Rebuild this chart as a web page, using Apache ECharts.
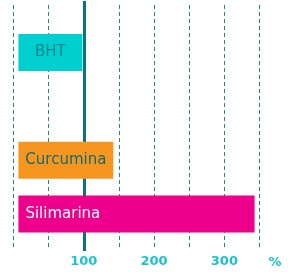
<!DOCTYPE html>
<html><head><meta charset="utf-8">
<script src="https://cdn.jsdelivr.net/npm/echarts@6/dist/echarts.min.js"></script>
<style>html,body{margin:0;padding:0;background:#fff}#c{width:300px;height:275px}</style>
</head><body><div id="c"></div>
<script>
var categories = ['BHT', 'Curcumina', 'Silimarina'];
var values = [98, 142, 343];
var barStart = 7;
var tickLabels = [100, 200, 300];
var referenceValue = 100;
var unitLabel = '%';
var barColors = ['#00CFCF', '#F7961E', '#EC008C'];
var labelColors = ['#138790', '#0D6C76', '#FFFFFF'];

var axisCats = [categories[0], '', categories[1], categories[2]];
var catIndex = [0, 2, 3];
var baseData = [], valData = [];
for (var i = 0; i < axisCats.length; i++) { baseData.push('-'); valData.push('-'); }
categories.forEach(function (c, i) {
  var k = catIndex[i];
  baseData[k] = barStart;
  valData[k] = {
    value: values[i] - barStart,
    itemStyle: { color: barColors[i] },
    label: i === 2 ? { position: 'insideLeft', distance: 7, color: labelColors[i] }
                   : { position: 'inside', color: labelColors[i] }
  };
});

var refColors = [];
for (var t = 0; t <= 350; t += referenceValue) refColors.push(t === referenceValue ? '#0B7380' : 'rgba(0,0,0,0)');
refColors.push('rgba(0,0,0,0)');
var dashColors = [];
for (var d = 0; d <= 350; d += 50) dashColors.push(d === referenceValue ? 'rgba(0,0,0,0)' : '#1F8793');

var L = 13.5, R = 40.5;
var chart = echarts.init(document.getElementById('c'), null, { renderer: 'canvas' });
chart.setOption({
  animation: false,
  grid: [
    { left: L, right: R, top: 25.5, height: 215.5 },
    { left: L, right: R, top: 1, height: 250 },
    { left: L, right: R, top: 5, height: 243 }
  ],
  xAxis: [
    { gridIndex: 0, type: 'value', min: 0, max: 350, show: false },
    { gridIndex: 1, type: 'value', min: 0, max: 350, interval: referenceValue, z: 0,
      axisLine: { show: false }, axisTick: { show: false }, axisLabel: { show: false },
      splitLine: { show: true, lineStyle: { color: refColors, width: 3, type: 'solid' } } },
    { gridIndex: 2, type: 'value', min: 0, max: 350, interval: 50, z: 0,
      axisLine: { show: false }, axisTick: { show: false },
      splitLine: { show: true, lineStyle: { color: dashColors, type: [4, 3], width: 1 } },
      axisLabel: { margin: 7, color: '#1BC3D2', fontSize: 13, fontWeight: 'bold', fontFamily: 'DejaVu Sans',
        formatter: function (v) { return tickLabels.indexOf(v) >= 0 ? String(v) : ''; } },
      name: unitLabel, nameLocation: 'end', nameGap: 9,
      nameTextStyle: { color: '#1BC3D2', fontSize: 13, fontWeight: 'bold', fontFamily: 'DejaVu Sans',
        verticalAlign: 'top', padding: [8, 0, 0, 0] } }
  ],
  yAxis: [
    { gridIndex: 0, type: 'category', data: axisCats, inverse: true, show: false },
    { gridIndex: 1, type: 'category', data: axisCats, inverse: true, show: false },
    { gridIndex: 2, type: 'category', data: axisCats, inverse: true, show: false }
  ],
  series: [
    { type: 'bar', xAxisIndex: 0, yAxisIndex: 0, stack: 's', data: baseData, barWidth: 37, z: 5,
      itemStyle: { color: 'transparent' }, silent: true },
    { type: 'bar', xAxisIndex: 0, yAxisIndex: 0, stack: 's', data: valData, barWidth: 37, z: 5,
      label: { show: true, fontSize: 15, fontFamily: 'DejaVu Sans',
        formatter: function (p) { return p.name; } } }
  ]
});
</script></body></html>
